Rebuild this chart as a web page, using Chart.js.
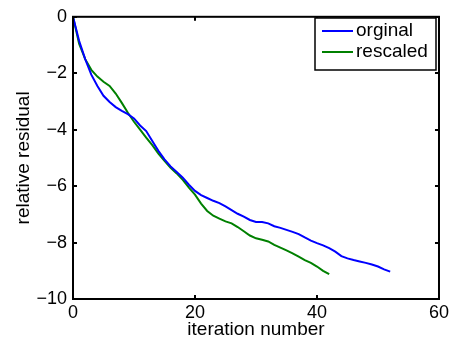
<!DOCTYPE html>
<html>
<head>
<meta charset="utf-8">
<script src="https://cdn.jsdelivr.net/npm/chart.js@4/dist/chart.umd.min.js"></script>
<style>
  html, body { margin: 0; padding: 0; background: #fff; }
  #wrap { width: 452px; height: 345px; position: relative; }
</style>
</head>
<body>
<div id="wrap"><canvas id="c" width="452" height="345"></canvas></div>
<script>
// Relative residual per iteration, two solver variants
const seriesNames = ['orginal', 'rescaled'];
const original = [
  0, -0.85, -1.5, -2.05, -2.45, -2.8, -3.02, -3.2, -3.33, -3.45,
  -3.6, -3.85, -4.05, -4.4, -4.75, -5.05, -5.3, -5.5, -5.7, -5.95,
  -6.17, -6.32, -6.42, -6.52, -6.6, -6.72, -6.85, -6.98, -7.08, -7.2,
  -7.27, -7.27, -7.32, -7.42, -7.48, -7.55, -7.62, -7.7, -7.82, -7.93,
  -8.02, -8.1, -8.2, -8.32, -8.48, -8.56, -8.62, -8.67, -8.72, -8.78,
  -8.85, -8.95, -9.03
];
const rescaled = [
  0, -0.95, -1.5, -1.88, -2.12, -2.3, -2.45, -2.72, -3.05, -3.4,
  -3.72, -4.0, -4.28, -4.55, -4.85, -5.1, -5.35, -5.55, -5.78, -6.05,
  -6.3, -6.62, -6.88, -7.05, -7.15, -7.25, -7.32, -7.45, -7.6, -7.75,
  -7.85, -7.9, -7.96, -8.08, -8.18, -8.28, -8.38, -8.5, -8.62, -8.72,
  -8.85, -9.0, -9.12
];
const xTicks = [0, 20, 40, 60];
const yTicks = [-10, -8, -6, -4, -2, 0];
const xTitle = 'iteration number';
const yTitle = 'relative residual';

const FONT = '"Liberation Sans", Arial, Helvetica, sans-serif';
const asPoints = arr => arr.map((v, i) => ({ x: i, y: v }));
const fmt = v => String(v).replace('-', '\u2212');

// Boxed axes with inward tick marks on all four sides
const frame = {
  id: 'frame',
  afterDatasetsDraw(chart) {
    const { ctx, chartArea: a, scales } = chart;
    ctx.save();
    ctx.strokeStyle = '#000';
    ctx.lineWidth = 2;
    ctx.strokeRect(a.left, a.top, a.right - a.left, a.bottom - a.top);
    const len = 4;
    ctx.beginPath();
    xTicks.forEach(v => {
      const px = Math.round(scales.x.getPixelForValue(v));
      ctx.moveTo(px, a.bottom); ctx.lineTo(px, a.bottom - len);
      ctx.moveTo(px, a.top); ctx.lineTo(px, a.top + len);
    });
    yTicks.forEach(v => {
      const py = Math.round(scales.y.getPixelForValue(v));
      ctx.moveTo(a.left, py); ctx.lineTo(a.left + len, py);
      ctx.moveTo(a.right, py); ctx.lineTo(a.right - len, py);
    });
    ctx.stroke();

    // axis titles
    ctx.fillStyle = '#000';
    ctx.font = '19px ' + FONT;
    ctx.textAlign = 'center';
    ctx.textBaseline = 'alphabetic';
    ctx.fillText(xTitle, (a.left + a.right) / 2, 335);
    ctx.save();
    ctx.translate(29, (a.top + a.bottom) / 2);
    ctx.rotate(-Math.PI / 2);
    ctx.fillText(yTitle, 0, 0);
    ctx.restore();

    // legend box in the upper right corner
    const bx = 315, by = 18, bw = 121, bh = 52;
    ctx.fillStyle = '#fff';
    ctx.fillRect(bx, by, bw, bh);
    ctx.lineWidth = 1.5;
    ctx.strokeRect(bx, by, bw, bh);
    ctx.textAlign = 'left';
    ctx.textBaseline = 'middle';
    chart.data.datasets.forEach((ds, i) => {
      const y = by + 13 + i * 21;
      ctx.strokeStyle = ds.borderColor;
      ctx.lineWidth = 2;
      ctx.beginPath();
      ctx.moveTo(bx + 7, y); ctx.lineTo(bx + 38, y);
      ctx.stroke();
      ctx.fillStyle = '#000';
      ctx.fillText(ds.label, bx + 41, y);
    });
    ctx.restore();
  }
};

new Chart(document.getElementById('c'), {
  type: 'line',
  data: {
    datasets: [
      { label: seriesNames[0], data: asPoints(original), borderColor: '#0000ff', borderWidth: 2 },
      { label: seriesNames[1], data: asPoints(rescaled), borderColor: '#008000', borderWidth: 2 }
    ]
  },
  options: {
    responsive: false,
    animation: false,
    events: [],
    layout: { padding: { left: 0, top: 13, right: 13, bottom: 0 } },
    elements: { point: { radius: 0 }, line: { tension: 0, fill: false } },
    plugins: { legend: { display: false }, tooltip: { enabled: false } },
    scales: {
      x: {
        type: 'linear', min: 0, max: 60,
        afterFit(s) { s.height = 46; },
        afterBuildTicks(s) { s.ticks = xTicks.map(v => ({ value: v })); },
        grid: { display: false, drawTicks: false },
        border: { display: false },
        ticks: { padding: 3, color: '#000', font: { family: FONT, size: 18 }, maxRotation: 0, callback: v => fmt(v) }
      },
      y: {
        type: 'linear', min: -10, max: 0,
        afterFit(s) { s.width = 73; },
        afterBuildTicks(s) { s.ticks = yTicks.map(v => ({ value: v })); },
        grid: { display: false, drawTicks: false },
        border: { display: false },
        ticks: { padding: 6, color: '#000', font: { family: FONT, size: 18 }, callback: v => fmt(v) }
      }
    }
  },
  plugins: [frame]
});
</script>
</body>
</html>
